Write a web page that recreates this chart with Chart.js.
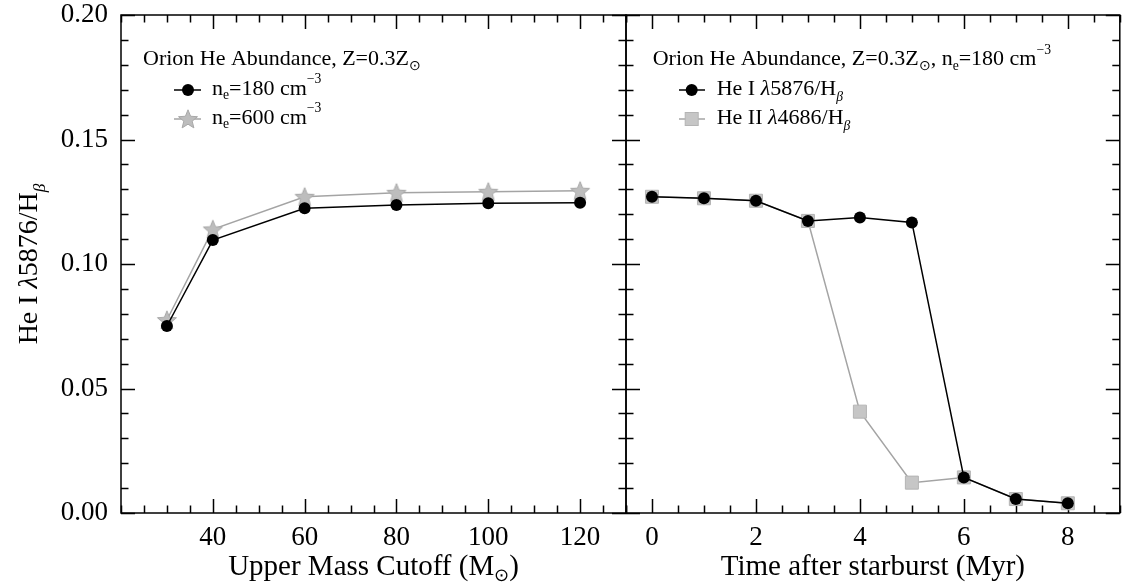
<!DOCTYPE html>
<html><head><meta charset="utf-8">
<script src="https://cdn.jsdelivr.net/npm/chart.js@4.4.0/dist/chart.umd.min.js"></script>
<style>html,body{margin:0;padding:0;background:#fff;width:1130px;height:584px;overflow:hidden}
canvas{position:absolute;top:0}</style></head>
<body>
<canvas id="c1" width="640" height="584" style="left:0"></canvas>
<canvas id="c2" width="530" height="584" style="left:600px"></canvas>
<script>
// ---- data ----
const massCutoff = [30, 40, 60, 80, 100, 120];
const heI_ne180 = [0.0751, 0.1096, 0.1224, 0.1237, 0.1244, 0.1246];
const heI_ne600 = [0.0775, 0.1139, 0.1270, 0.1286, 0.1290, 0.1294];
const timeMyr = [0, 1, 2, 3, 4, 5, 6, 7, 8];
const heI5876 = [0.1270, 0.1264, 0.1254, 0.1173, 0.1187, 0.1167, 0.0143, 0.0056, 0.0039];
const heII4686 = [0.1270, 0.1264, 0.1254, 0.1173, 0.0407, 0.0122, 0.0143, 0.0056, 0.0039];
const yTicks = [0.00, 0.05, 0.10, 0.15, 0.20];
const massTicks = [40, 60, 80, 100, 120];
const timeTicks = [0, 2, 4, 6, 8];

const FAM = '"Liberation Serif","Times New Roman",serif';
const GRAY_LINE = '#a4a4a4';

function rich(ctx, x, y, segs, S, align) {
  const spec = k => {
    switch (k) {
      case 'sub': return { f: `${0.62*S}px ${FAM}`, dy: 0.22*S };
      case 'subit': return { f: `italic ${0.62*S}px ${FAM}`, dy: 0.28*S };
      case 'sup': return { f: `${0.62*S}px ${FAM}`, dy: -0.52*S };
      case 'it': return { f: `italic ${S}px ${FAM}`, dy: 0 };
      default: return { f: `${S}px ${FAM}`, dy: 0 };
    }
  };
  let w = 0;
  const items = segs.map(([t, k]) => { const s = spec(k); ctx.font = s.f; const m = ctx.measureText(t).width; w += m; return { t, s, m }; });
  let cx = align === 'center' ? x - w / 2 : x;
  ctx.textBaseline = 'alphabetic'; ctx.textAlign = 'left'; ctx.fillStyle = '#000';
  for (const it of items) { ctx.font = it.s.f; ctx.fillText(it.t, cx, y + it.s.dy); cx += it.m; }
}

function starCanvas(R, r, fill, stroke) {
  const c = document.createElement('canvas');
  const size = Math.ceil(2 * R + 4);
  c.width = size; c.height = size;
  const g = c.getContext('2d');
  drawStar(g, size / 2, size / 2 + 0.8, R, r, fill, stroke);
  return c;
}
function drawStar(g, cx, cy, R, r, fill, stroke) {
  g.beginPath();
  for (let i = 0; i < 10; i++) {
    const ang = -Math.PI / 2 + i * Math.PI / 5;
    const rad = i % 2 ? r : R;
    const px = cx + rad * Math.cos(ang), py = cy + rad * Math.sin(ang);
    i ? g.lineTo(px, py) : g.moveTo(px, py);
  }
  g.closePath();
  g.fillStyle = fill; g.fill();
  g.lineWidth = 1; g.strokeStyle = stroke; g.stroke();
}
const STAR = starCanvas(10, 4.4, '#bdbdbd', '#a8a8a8');

function framePlugin(xMajor, xMinorStep) {
  return {
    id: 'frame',
    beforeDatasetsDraw(chart) {
      const { ctx, chartArea: a, scales: { x, y } } = chart;
      ctx.save();
      ctx.strokeStyle = '#000'; ctx.lineWidth = 1.5;
      ctx.strokeRect(a.left, a.top, a.right - a.left, a.bottom - a.top);
      ctx.beginPath();
      const isMaj = (v, arr) => arr.some(m => Math.abs(m - v) < 1e-9);
      for (let v = x.min; v <= x.max + 1e-9; v += xMinorStep) {
        const px = Math.round(x.getPixelForValue(v)) + 0.5;
        const len = isMaj(v, xMajor) ? 14 : 7.5;
        ctx.moveTo(px, a.bottom); ctx.lineTo(px, a.bottom - len);
        ctx.moveTo(px, a.top); ctx.lineTo(px, a.top + len);
      }
      for (let i = 0; i <= 20; i++) {
        const v = i * 0.01;
        const py = Math.round(y.getPixelForValue(v)) + 0.5;
        const len = isMaj(v, yTicks) ? 14 : 7.5;
        ctx.moveTo(a.left, py); ctx.lineTo(a.left + len, py);
        ctx.moveTo(a.right, py); ctx.lineTo(a.right - len, py);
      }
      ctx.stroke();
      ctx.restore();
    }
  };
}

function legendMarker(ctx, kind, x1, x2, cx, y) {
  ctx.save();
  ctx.beginPath();
  ctx.moveTo(x1, y); ctx.lineTo(x2, y);
  ctx.lineWidth = 1.5;
  ctx.strokeStyle = kind === 'circle' ? '#000' : GRAY_LINE;
  ctx.stroke();
  if (kind === 'circle') {
    ctx.beginPath(); ctx.arc(cx, y, 6, 0, 2 * Math.PI); ctx.fillStyle = '#000'; ctx.fill();
  } else if (kind === 'star') {
    drawStar(ctx, cx, y + 0.8, 10, 4.4, '#bdbdbd', '#a8a8a8');
  } else {
    ctx.fillStyle = '#c6c6c6'; ctx.strokeStyle = '#b4b4b4'; ctx.lineWidth = 1;
    ctx.fillRect(cx - 6.5, y - 6.5, 13, 13); ctx.strokeRect(cx - 6.5, y - 6.5, 13, 13);
  }
  ctx.restore();
}

const leftText = {
  id: 'leftText',
  afterDraw(chart) {
    const ctx = chart.ctx, a = chart.chartArea;
    rich(ctx, (a.left + a.right) / 2, 575, [['Upper Mass Cutoff (M', 'n'], ['\u2299', 'sub'], [')', 'n']], 29, 'center');
    ctx.save(); ctx.translate(37, (a.top + a.bottom) / 2); ctx.rotate(-Math.PI / 2);
    rich(ctx, 0, 0, [['He I ', 'n'], ['\u03bb', 'it'], ['5876/H', 'n'], ['\u03b2', 'subit']], 28, 'center');
    ctx.restore();
    rich(ctx, 143, 65, [['Orion He Abundance, Z=0.3Z', 'n'], ['\u2299', 'sub']], 22, 'left');
    legendMarker(ctx, 'circle', 174, 201, 188, 90);
    rich(ctx, 212, 94.5, [['n', 'n'], ['e', 'sub'], ['=180 cm', 'n'], ['\u22123', 'sup']], 22, 'left');
    legendMarker(ctx, 'star', 174, 201, 188, 119);
    rich(ctx, 212, 123.5, [['n', 'n'], ['e', 'sub'], ['=600 cm', 'n'], ['\u22123', 'sup']], 22, 'left');
  }
};
const rightText = {
  id: 'rightText',
  afterDraw(chart) {
    const ctx = chart.ctx, a = chart.chartArea;
    rich(ctx, (a.left + a.right) / 2, 575, [['Time after starburst (Myr)', 'n']], 29, 'center');
    rich(ctx, 52.7, 65, [['Orion He Abundance, Z=0.3Z', 'n'], ['\u2299', 'sub'], [', n', 'n'], ['e', 'sub'], ['=180 cm', 'n'], ['\u22123', 'sup']], 22, 'left');
    legendMarker(ctx, 'circle', 79, 105, 91.7, 90);
    rich(ctx, 116.7, 94.5, [['He I ', 'n'], ['\u03bb', 'it'], ['5876/H', 'n'], ['\u03b2', 'subit']], 22, 'left');
    legendMarker(ctx, 'square', 79, 105, 91.7, 119);
    rich(ctx, 116.7, 123.5, [['He II ', 'n'], ['\u03bb', 'it'], ['4686/H', 'n'], ['\u03b2', 'subit']], 22, 'left');
  }
};

const tickFont = { family: FAM, size: 27, lineHeight: 1.0 };

function xScale(min, max, ticks) {
  return {
    type: 'linear', min, max,
    grid: { display: false, drawTicks: false }, border: { display: false },
    afterBuildTicks: s => { s.ticks = ticks.map(v => ({ value: v })); },
    afterFit: s => { s.height = 71; s.paddingLeft = 0; s.paddingRight = 0; },
    ticks: { font: tickFont, color: '#000', padding: 11, maxRotation: 0, autoSkip: false, callback: v => String(v) }
  };
}

new Chart(document.getElementById('c1'), {
  type: 'line',
  data: {
    datasets: [
      { data: massCutoff.map((m, i) => ({ x: m, y: heI_ne180[i] })), borderColor: '#000', borderWidth: 1.5,
        pointStyle: 'circle', pointRadius: 6, pointBackgroundColor: '#000', pointBorderWidth: 0 },
      { data: massCutoff.map((m, i) => ({ x: m, y: heI_ne600[i] })), borderColor: GRAY_LINE, borderWidth: 1.5,
        pointStyle: STAR, pointRadius: 10 }
    ]
  },
  options: {
    responsive: false, animation: false, devicePixelRatio: 1,
    layout: { padding: { top: 15, right: 14, left: 0, bottom: 0 } },
    plugins: { legend: { display: false }, tooltip: { enabled: false } },
    scales: {
      x: xScale(20, 130, massTicks),
      y: {
        min: 0, max: 0.2,
        grid: { display: false, drawTicks: false }, border: { display: false },
        afterBuildTicks: s => { s.ticks = yTicks.map(v => ({ value: v })); },
        afterFit: s => { s.width = 121; s.paddingTop = 0; s.paddingBottom = 0; },
        ticks: { font: tickFont, color: '#000', padding: 13, callback: v => Number(v).toFixed(2) }
      }
    }
  },
  plugins: [framePlugin(massTicks, 5), leftText]
});

new Chart(document.getElementById('c2'), {
  type: 'line',
  data: {
    datasets: [
      { data: timeMyr.map((t, i) => ({ x: t, y: heI5876[i] })), borderColor: '#000', borderWidth: 1.5,
        pointStyle: 'circle', pointRadius: 6, pointBackgroundColor: '#000', pointBorderWidth: 0 },
      { data: timeMyr.map((t, i) => ({ x: t, y: heII4686[i] })), borderColor: GRAY_LINE, borderWidth: 1.5,
        pointStyle: 'rect', pointRadius: 9.2, pointBackgroundColor: '#c6c6c6', pointBorderColor: '#b4b4b4', pointBorderWidth: 1 }
    ]
  },
  options: {
    responsive: false, animation: false, devicePixelRatio: 1,
    layout: { padding: { top: 15, right: 1, left: 26, bottom: 0 } },
    plugins: { legend: { display: false }, tooltip: { enabled: false } },
    scales: {
      x: xScale(-0.5, 9, timeTicks),
      y: { min: 0, max: 0.2, display: false }
    }
  },
  plugins: [framePlugin(timeTicks, 0.5), rightText]
});
</script>
</body></html>
